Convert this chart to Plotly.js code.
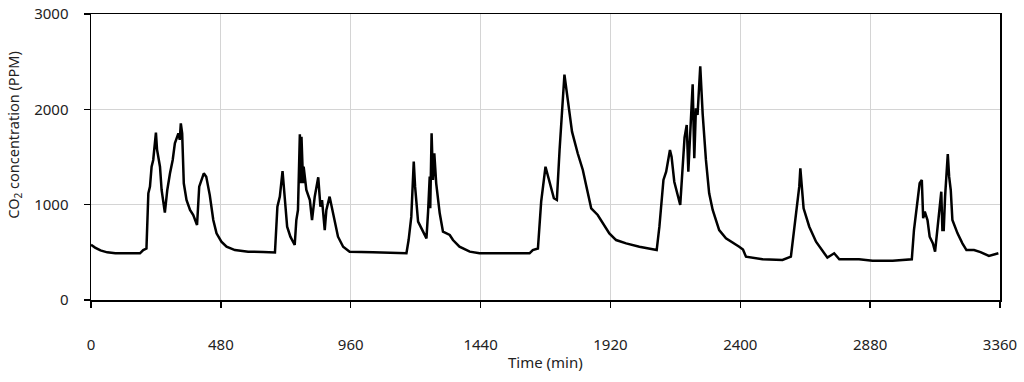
<!DOCTYPE html>
<html>
<head>
<meta charset="utf-8">
<script src="https://cdn.plot.ly/plotly-3.0.1.min.js"></script>
<style>html,body{margin:0;padding:0;background:#fff;}#chart{width:1024px;height:382px;}</style>
</head>
<body>
<div id="chart"></div>
<script>
// Time (min)
const timeMin = [0,15,35,60,90,181,193,205,212,218,224,230,240,244,255,261,273,282,292,302,310,317,323,328,332,337,343,353,366,378,392,400,409,417,426,439,452,464,482,501,532,581,636,680,
689,698,708,714,725,737,753,759,765,772,775,778,784,786,796,809,817,827,840,848,854,864,870,882,901,913,932,956,1042,1166,
1174,1184,1193,1198,1209,1227,1240,1246,1252,1254,1259,1264,1269,1276,1289,1301,1326,1338,1362,1400,1436,1621,1633,1652,1664,1680,1695,1711,1722,1732,1750,1762,1778,1799,1818,1830,1849,1873,1892,1916,1941,1978,2027,2091,
2101,2116,2126,2140,2146,2156,2178,2187,2194,2202,2208,2214,2219,2224,2230,2236,2242,2252,2261,2273,2285,2298,2322,2347,2396,2410,2421,2482,2556,2587,
2618,2622,2634,2655,2680,2701,2722,2747,2766,2839,2889,2963,3034,3042,3055,3063,3071,3076,3082,3092,3100,3112,3120,3129,3138,3143,3147,3152,3157,3162,3167,3172,3178,3184,3203,3221,3236,3264,3288,3319,3338,3354];
// CO2 concentration (PPM)
const co2Ppm = [580,550,520,500,490,490,524,540,1119,1190,1398,1469,1755,1580,1398,1154,916,1154,1329,1469,1644,1713,1748,1680,1853,1748,1224,1049,944,892,787,1189,1276,1329,1294,1100,839,699,612,559,524,507,503,498,
979,1084,1353,1154,769,664,577,839,944,1738,1224,1713,1224,1398,1154,1049,839,1084,1287,979,1049,734,944,1084,839,664,559,507,500,490,
629,874,1451,1189,822,717,647,927,1294,962,1748,1259,1539,1224,909,717,682,629,559,507,490,490,524,540,1031,1398,1224,1067,1049,1573,2365,2098,1766,1539,1364,1206,962,892,804,699,629,594,559,524,
769,1259,1346,1573,1503,1241,997,1381,1706,1836,1346,1696,1941,2262,1486,2010,1941,2450,1950,1469,1119,944,734,647,559,530,454,427,420,454,
1189,1381,962,769,612,532,444,490,427,427,413,413,427,734,1049,1224,1259,857,927,839,664,594,507,734,979,1136,734,734,1084,1294,1531,1294,1154,839,699,594,524,524,503,462,479,490];
// Axis ticks
const xTicks = [0,480,960,1440,1920,2400,2880,3360];
const yTicks = [0,1000,2000,3000];

const fontFam = '"Noto Sans", "Open Sans", Arial, sans-serif';

const trace = {
  x: timeMin,
  y: co2Ppm,
  type: 'scatter',
  mode: 'lines',
  line: {color: '#000000', width: 2.5},
  hoverinfo: 'skip'
};

const layout = {
  width: 1024,
  height: 382,
  margin: {l: 91, r: 24, t: 14, b: 82},
  paper_bgcolor: '#ffffff',
  plot_bgcolor: '#ffffff',
  showlegend: false,
  font: {family: fontFam, size: 15, color: '#222222'},
  xaxis: {
    range: [0, 3360],
    tickvals: xTicks,
    ticktext: xTicks.map(String),
    showgrid: true,
    gridcolor: '#d4d4d4',
    gridwidth: 1,
    zeroline: false,
    showline: true,
    linecolor: '#000000',
    linewidth: 1.5,
    mirror: true,
    ticks: 'outside',
    ticklen: 6,
    tickwidth: 1.5,
    tickcolor: '#000000',
    ticklabelstandoff: 24,
    tickfont: {family: fontFam, size: 15, color: '#222222'}
  },
  yaxis: {
    range: [0, 3000],
    tickvals: yTicks,
    ticktext: yTicks.map(String),
    showgrid: true,
    gridcolor: '#d4d4d4',
    gridwidth: 1,
    zeroline: false,
    showline: true,
    linecolor: '#000000',
    linewidth: 1.5,
    mirror: true,
    ticks: 'outside',
    ticklen: 6,
    tickwidth: 1.5,
    tickcolor: '#000000',
    ticklabelstandoff: 12,
    tickfont: {family: fontFam, size: 15, color: '#222222'}
  },
  annotations: [
    {
      text: 'Time (min)',
      xref: 'paper', yref: 'paper',
      x: 0.5, y: -0.217,
      xanchor: 'center', yanchor: 'middle',
      showarrow: false,
      font: {family: fontFam, size: 15, color: '#222222'}
    },
    {
      text: 'CO<sub>2</sub> concentration (PPM)',
      xref: 'paper', yref: 'paper',
      x: -0.085, y: 0.577,
      xanchor: 'center', yanchor: 'middle',
      textangle: -90,
      showarrow: false,
      font: {family: fontFam, size: 14.5, color: '#222222'}
    }
  ]
};

Plotly.newPlot('chart', [trace], layout, {displayModeBar: false, staticPlot: true});
</script>
</body>
</html>
